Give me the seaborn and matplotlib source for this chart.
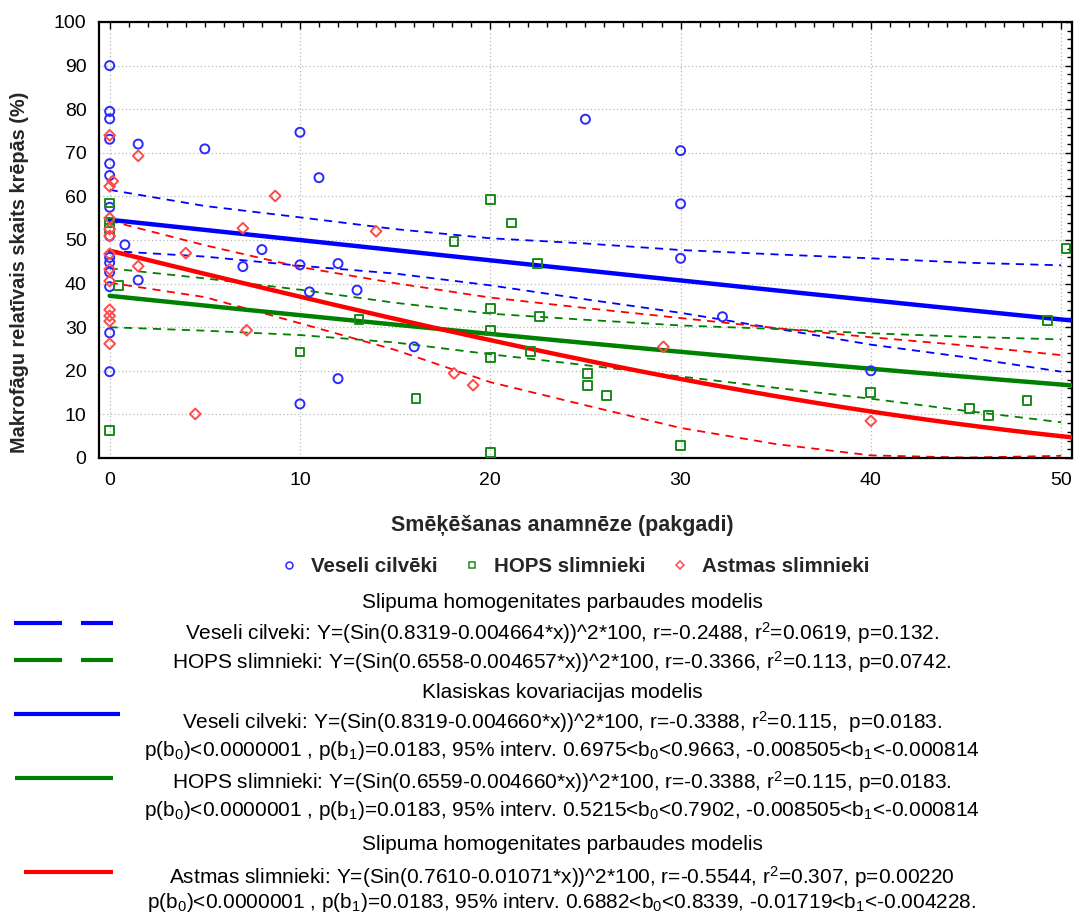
import numpy as np
import pandas as pd
import matplotlib
matplotlib.use("Agg")
import matplotlib.pyplot as plt
from matplotlib.lines import Line2D
from matplotlib.ticker import MultipleLocator
import seaborn as sns

# ---- data -------------------------------------------------------------
groups = ["Veseli cilvēki", "HOPS slimnieki", "Astmas slimnieki"]

veseli_x = [0, 0, 0, 0, 0, 0, 0, 0, 0, 0, 0, 0, 0, 0,
            0.8, 1.5, 1.5, 5, 7, 8, 10, 10, 10, 10.5, 11, 12, 12, 13, 16,
            25, 30, 30, 30, 32.2, 40]
veseli_y = [90.0, 79.5, 77.8, 73.1, 67.5, 64.8, 57.5, 50.9, 46.0, 44.8, 42.6, 39.3, 28.7, 19.8,
            48.9, 72.0, 40.8, 70.9, 43.9, 47.8, 74.7, 44.3, 12.4, 38.1, 64.3, 44.6, 18.2, 38.5, 25.5,
            77.7, 70.5, 58.3, 45.8, 32.4, 20.0]

hops_x = [0, 0, 0, 0, 0.45, 10, 13.1, 16.1, 18.1, 20, 20, 20, 20, 20, 21.1,
          22.1, 22.5, 22.6, 25.1, 25.1, 26.1, 30, 40, 45.2, 46.2, 48.2, 49.3, 50.25]
hops_y = [58.5, 54.0, 52.7, 6.3, 39.6, 24.3, 31.7, 13.6, 49.7, 59.3, 34.3, 29.3, 23.1, 1.2, 53.9,
          24.5, 44.7, 32.4, 19.4, 16.7, 14.3, 2.8, 15.0, 11.3, 9.7, 13.2, 31.5, 48.1]

astmas_x = [0, 0, 0, 0, 0, 0, 0, 0, 0, 0, 0, 0, 0.16,
            1.5, 1.5, 4.0, 4.5, 7.0, 7.2, 8.7, 14.0, 18.1, 19.1, 29.1, 40]
astmas_y = [74.0, 62.3, 55.0, 52.5, 50.9, 46.8, 43.3, 40.6, 34.0, 32.6, 31.4, 26.2, 63.5,
            69.3, 44.0, 47.0, 10.1, 52.7, 29.3, 60.1, 52.0, 19.4, 16.7, 25.5, 8.5]

# fitted models: Y = (sin(b0 + b1*x))^2 * 100
fit_b0 = [0.8319, 0.6559, 0.7610]
fit_b1 = [-0.004660, -0.004660, -0.01071]

# 95% confidence bands, read at x = 0, 5, ..., 50
band_x = [0, 5, 10, 15, 20, 25, 30, 35, 40, 45, 50]
veseli_upper = [61.5, 57.8, 55.2, 52.5, 50.4, 49.2, 47.7, 46.7, 45.8, 44.8, 44.2]
veseli_lower = [47.5, 46.2, 44.1, 42.3, 39.6, 36.4, 33.3, 29.7, 26.0, 23.1, 19.8]
hops_upper = [43.5, 41.2, 38.6, 35.6, 33.1, 31.7, 30.4, 29.6, 28.6, 27.8, 27.2]
hops_lower = [30.0, 29.2, 28.2, 26.5, 23.8, 21.3, 18.7, 16.1, 13.6, 10.8, 8.2]
astmas_upper = [54.4, 48.8, 43.8, 40.1, 36.8, 34.4, 32.1, 29.8, 27.7, 25.8, 23.6]
astmas_lower = [40.2, 36.9, 30.9, 24.8, 17.4, 12.1, 6.9, 3.2, 0.6, 0.1, 0.5]

colors = {"Veseli cilvēki": "#0000ff", "HOPS slimnieki": "#008000", "Astmas slimnieki": "#ff0000"}
point_colors = {"Veseli cilvēki": "#2a2aff", "HOPS slimnieki": "#1a8a1a", "Astmas slimnieki": "#ff4a4a"}
markers = {"Veseli cilvēki": "o", "HOPS slimnieki": "s", "Astmas slimnieki": "D"}
marker_size = {"Veseli cilvēki": 42, "HOPS slimnieki": 40, "Astmas slimnieki": 30}

points = pd.concat([
    pd.DataFrame({"x": veseli_x, "y": veseli_y, "grupa": groups[0]}),
    pd.DataFrame({"x": hops_x, "y": hops_y, "grupa": groups[1]}),
    pd.DataFrame({"x": astmas_x, "y": astmas_y, "grupa": groups[2]}),
], ignore_index=True)

x_fit = np.linspace(0, 50.6, 200)
fits = pd.concat([
    pd.DataFrame({"x": x_fit, "y": np.sin(b0 + b1 * x_fit) ** 2 * 100, "grupa": g})
    for g, b0, b1 in zip(groups, fit_b0, fit_b1)
], ignore_index=True)

bands = {
    groups[0]: (veseli_upper, veseli_lower),
    groups[1]: (hops_upper, hops_lower),
    groups[2]: (astmas_upper, astmas_lower),
}

# ---- figure -------------------------------------------------------------
sns.set_style("white")
plt.rcParams["font.family"] = ["Liberation Sans", "DejaVu Sans"]
plt.rcParams["mathtext.fontset"] = "custom"
plt.rcParams["mathtext.rm"] = "Liberation Sans"
plt.rcParams["mathtext.it"] = "Liberation Sans"

W, H = 1078, 915
fig = plt.figure(figsize=(W / 100, H / 100), dpi=100)
ax = fig.add_axes([99 / W, 1 - 458 / H, (1072 - 99) / W, (458 - 22) / H])

# confidence bands
for g in groups:
    up, lo = bands[g]
    for yy in (up, lo):
        sns.lineplot(x=band_x, y=yy, ax=ax, color=colors[g], lw=1.3,
                     dashes=False, linestyle=(0, (4.5, 3.5)), zorder=2)

# fitted curves
sns.lineplot(data=fits, x="x", y="y", hue="grupa", palette=colors, ax=ax,
             lw=3.2, legend=False, zorder=3, estimator=None)

# observations
for g in groups:
    sub = points[points["grupa"] == g]
    sns.scatterplot(data=sub, x="x", y="y", ax=ax, marker=markers[g],
                    s=marker_size[g], facecolors="none", edgecolor=point_colors[g],
                    linewidth=1.4, zorder=4, legend=False)

ax.set_xlim(-0.56, 50.57)
ax.set_ylim(0, 100)
ax.xaxis.set_major_locator(MultipleLocator(10))
ax.xaxis.set_minor_locator(MultipleLocator(1))
ax.yaxis.set_major_locator(MultipleLocator(10))
ax.yaxis.set_minor_locator(MultipleLocator(2))
ax.tick_params(which="both", direction="in", top=True, right=True, colors="black", width=1)
ax.tick_params(which="major", length=5)
ax.tick_params(which="minor", length=3.5)
ax.tick_params(axis="x", which="major", pad=10, labelsize=14)
ax.tick_params(axis="y", which="major", pad=9, labelsize=14)
ax.grid(True, which="major", color="#b8b8b8", linestyle=(0, (1, 2)), linewidth=0.9)
for sp in ax.spines.values():
    sp.set_linewidth(1.6)
    sp.set_color("black")

ax.set_xlabel("Smēķēšanas anamnēze (pakgadi)", fontsize=15.5, fontweight="bold")
ax.xaxis.label.set_va("center")
ax.xaxis.set_label_coords((562 - 99) / 973, (458 - 526) / 436)
ax.set_ylabel("Makrofāgu relatīvais skaits krēpās (%)", fontsize=14.3, fontweight="bold")
ax.yaxis.label.set_va("center")
ax.yaxis.set_label_coords((20 - 99) / 973, (458 - 272) / 436)

# group legend
handles = [Line2D([], [], ls="none", marker=markers[g], markerfacecolor="none",
                  markeredgecolor=point_colors[g], markersize=5 if g != groups[2] else 4.2,
                  markeredgewidth=1.1) for g in groups]
fig.legend(handles, groups, ncol=3, loc="center", bbox_to_anchor=(573 / W, 1 - 567 / H),
           frameon=False, prop={"weight": "bold", "size": 14.8},
           handletextpad=0.45, columnspacing=1.1, handlelength=1.2)

# model descriptions
def fy(py):
    return 1 - py / H

text_kw = dict(ha="center", va="center", fontsize=15, color="black")
lines_txt = [
    (603, "Slipuma homogenitates parbaudes modelis"),
    (633, r"Veseli cilveki: Y=(Sin(0.8319-0.004664*x))^2*100, r=-0.2488, r$\mathregular{^2}$=0.0619, p=0.132."),
    (662, r"HOPS slimnieki: Y=(Sin(0.6558-0.004657*x))^2*100, r=-0.3366, r$\mathregular{^2}$=0.113, p=0.0742."),
    (692, "Klasiskas kovariacijas modelis"),
    (722, r"Veseli cilveki: Y=(Sin(0.8319-0.004660*x))^2*100, r=-0.3388, r$\mathregular{^2}$=0.115,  p=0.0183."),
    (751, r"p(b$\mathregular{_0}$)<0.0000001 , p(b$\mathregular{_1}$)=0.0183, 95% interv. 0.6975<b$\mathregular{_0}$<0.9663, -0.008505<b$\mathregular{_1}$<-0.000814"),
    (782, r"HOPS slimnieki: Y=(Sin(0.6559-0.004660*x))^2*100, r=-0.3388, r$\mathregular{^2}$=0.115, p=0.0183."),
    (811, r"p(b$\mathregular{_0}$)<0.0000001 , p(b$\mathregular{_1}$)=0.0183, 95% interv. 0.5215<b$\mathregular{_0}$<0.7902, -0.008505<b$\mathregular{_1}$<-0.000814"),
    (845, "Slipuma homogenitates parbaudes modelis"),
    (877, r"Astmas slimnieki: Y=(Sin(0.7610-0.01071*x))^2*100, r=-0.5544, r$\mathregular{^2}$=0.307, p=0.00220"),
    (903, r"p(b$\mathregular{_0}$)<0.0000001 , p(b$\mathregular{_1}$)=0.0183, 95% interv. 0.6882<b$\mathregular{_0}$<0.8339, -0.01719<b$\mathregular{_1}$<-0.004228."),
]
for py, s in lines_txt:
    fig.text(562 / W, fy(py), s, **text_kw)

# line keys for the model descriptions
def key(x0, x1, py, color):
    fig.add_artist(Line2D([x0 / W, x1 / W], [fy(py), fy(py)], color=color, lw=3,
                          solid_capstyle="butt", transform=fig.transFigure))

key(14, 62, 623, colors[groups[0]])
key(81, 113, 623, colors[groups[0]])
key(14, 62, 660, colors[groups[1]])
key(81, 113, 660, colors[groups[1]])
key(14, 120, 714, colors[groups[0]])
key(15, 113, 778, colors[groups[1]])
key(24, 113, 872, colors[groups[2]])

fig.savefig("out.png", dpi=100, facecolor="white")
